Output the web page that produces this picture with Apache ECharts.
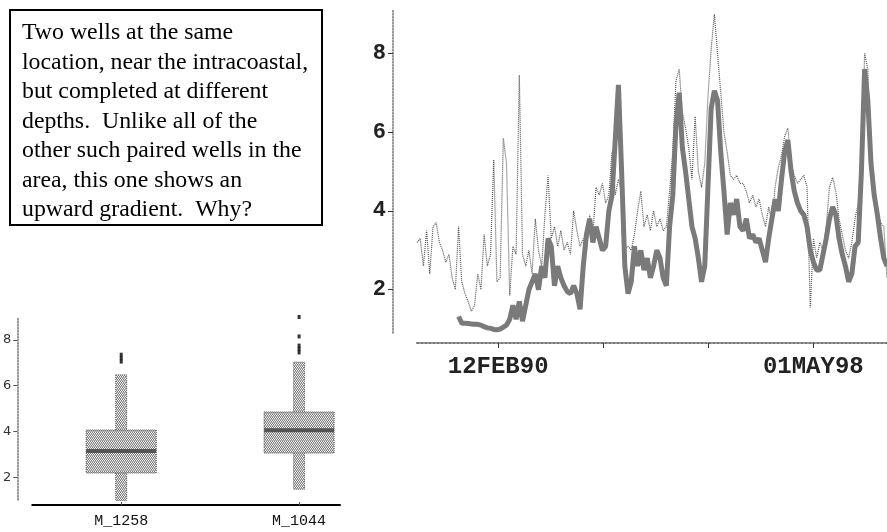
<!DOCTYPE html>
<html>
<head>
<meta charset="utf-8">
<script src="https://cdn.jsdelivr.net/npm/echarts@6/dist/echarts.min.js"></script>
<style>
html,body{margin:0;padding:0;background:#fff;}
#chart{width:887px;height:532px;}
</style>
</head>
<body>
<div id="chart"></div>
<script>
// ---------- DATA ----------
// Monthly water levels, first value = January 1988 (shallow / light series, M_1044)
const lightStartYear = 1988, lightStartMonth = 1;
const lightLevels = [
 3.2,3.3,2.6,3.5,2.4,3.6,3.7,3.2,3.0,2.7,2.9,2.3,
 2.0,3.6,2.2,1.9,1.7,1.45,1.6,2.4,2.0,3.4,2.6,2.9,
 5.3,2.2,2.3,5.85,5.2,1.85,3.1,2.9,7.45,2.9,2.6,3.0,
 2.4,3.8,3.0,2.6,3.9,4.9,3.3,3.6,3.1,3.5,3.0,3.2,
 2.9,4.0,3.5,3.1,3.3,3.0,3.9,3.4,4.6,4.4,4.7,4.2,
 4.4,5.5,4.4,4.8,4.5,3.0,3.1,3.0,3.4,4.0,4.5,3.6,
 3.9,3.5,4.0,3.6,3.8,3.5,3.6,4.5,5.5,7.3,7.6,6.5,
 6.1,5.6,4.8,6.4,5.0,4.6,5.2,6.9,8.1,9.0,8.0,7.0,
 6.0,5.5,4.9,4.8,4.9,4.7,4.7,4.5,4.2,4.4,4.1,4.3,
 3.9,3.6,4.1,3.7,4.6,5.1,5.4,5.9,6.1,5.2,4.9,4.7,
 4.8,4.9,4.6,1.55,3.3,2.8,3.2,3.0,3.6,4.6,4.85,4.5,
 3.8,3.4,3.0,2.8,3.2,3.8,4.2,5.0,8.0,7.6,5.2,4.3,
 4.0,3.7,3.6,2.3
];
// Monthly water levels, first value = February 1989 (deep / dark series, M_1258)
const darkStartYear = 1989, darkStartMonth = 2;
const darkLevels = [
 1.32,1.15,1.15,1.14,1.13,1.12,1.12,1.10,1.06,1.03,1.02,
 0.99,0.98,1.0,1.05,1.1,1.25,1.6,1.25,1.7,1.2,1.6,2.0,
 2.2,2.4,2.0,2.6,2.3,3.3,3.1,2.1,2.6,2.3,2.1,1.95,
 1.9,2.1,1.9,1.5,2.6,3.4,3.8,3.2,3.6,3.3,3.0,3.1,
 4.0,4.4,5.8,7.2,5.0,2.6,1.9,2.2,3.1,2.6,3.0,2.5,
 2.8,2.3,2.6,3.0,2.8,2.3,2.1,3.6,4.4,6.2,7.0,5.6,
 5.0,4.3,3.6,3.3,2.8,2.2,2.6,4.6,6.6,7.05,6.8,5.5,
 4.5,3.4,4.2,3.9,4.3,3.6,3.5,3.8,3.3,3.4,3.2,3.3,
 3.0,2.7,3.3,3.8,4.3,4.0,4.8,5.5,5.8,5.0,4.5,4.2,
 4.0,3.9,3.6,3.0,2.7,2.5,2.5,2.9,3.3,3.8,4.1,3.9,
 3.3,2.9,2.6,2.2,2.4,3.1,3.2,5.0,7.6,6.8,5.2,4.4,
 3.9,3.3,2.8,2.6
];
// Time-axis ticks (decimal years) and their labels
const timeTicks = [1990.115, 1992.853, 1995.591, 1998.329];
const timeTickLabels = ['12FEB90', '', '', '01MAY98'];
const levelTicks = [2, 4, 6, 8];

// Box plot statistics
const boxCategories = ['M_1258', 'M_1044'];
const boxLow    = [0.98, 1.47];
const boxQ1     = [2.18, 3.05];
const boxMedian = [3.14, 4.05];
const boxQ3     = [4.06, 4.85];
const boxHigh   = [6.47, 7.03];
const outliers1258 = [7.05, 7.2, 7.35];
const outliers1044 = [7.45, 7.6, 7.75, 8.15, 9.0];

const noteText = 'Two wells at the same\nlocation, near the intracoastal,\nbut completed at different\ndepths.  Unlike all of the\nother such paired wells in the\narea, this one shows an\nupward gradient.  Why?';

// ---------- BUILD ----------
function toSeries(startYear, startMonth, levels) {
  const out = [];
  for (let i = 0; i < levels.length; i++) {
    const mIdx = (startMonth - 1) + i;
    out.push([startYear + mIdx / 12, levels[i]]);
  }
  return out;
}
const lightData = toSeries(lightStartYear, lightStartMonth, lightLevels);
const darkData = toSeries(darkStartYear, darkStartMonth, darkLevels);

const boxData = boxCategories.map((c, i) => [i + 1, boxLow[i], boxQ1[i], boxMedian[i], boxQ3[i], boxHigh[i]]);
const outlierData = outliers1258.map(v => [1, v]).concat(outliers1044.map(v => [2, v]));

// stipple pattern
const pc = document.createElement('canvas');
pc.width = 4; pc.height = 3;
const pctx = pc.getContext('2d');
pctx.fillStyle = '#f2f2f2'; pctx.fillRect(0, 0, 4, 3);
pctx.fillStyle = '#7a7a7a';
pctx.fillRect(0, 0, 1, 1); pctx.fillRect(2, 0, 1, 1);
pctx.fillRect(1, 1, 1, 1); pctx.fillRect(3, 1, 1, 1);
pctx.fillStyle = '#b0b0b0';
pctx.fillRect(0, 2, 4, 1);
const stipple = { image: pc, repeat: 'repeat' };

const monoBold = { fontFamily: 'Liberation Mono', fontWeight: 'bold', color: '#222' };

const chart = echarts.init(document.getElementById('chart'), null, { renderer: 'canvas' });
chart.setOption({
  animation: false,
  backgroundColor: '#fff',
  grid: [
    { left: 417, right: 0, top: 10, bottom: 199 },
    { left: 32, right: 547, top: 317, bottom: 32 }
  ],
  xAxis: [
    {
      type: 'value', gridIndex: 0, min: 1988.0, max: 2000.25, offset: 10,
      axisLine: { lineStyle: { color: '#777', width: 2, type: 'dotted' } },
      axisTick: { customValues: timeTicks, length: 5, lineStyle: { color: '#333', width: 1 } },
      axisLabel: {
        customValues: timeTicks.filter((t, i) => timeTickLabels[i] !== ''),
        formatter: v => { let best = 0; timeTicks.forEach((t, i) => { if (Math.abs(t - v) < Math.abs(timeTicks[best] - v)) best = i; }); return timeTickLabels[best]; },
        margin: 12, fontSize: 24, ...monoBold
      },
      splitLine: { show: false }
    },
    {
      type: 'value', gridIndex: 1, min: 0.5, max: 2.23, offset: 5,
      axisLine: { lineStyle: { color: '#000', width: 2 } },
      axisTick: { customValues: [1, 2], inside: true, length: 3, lineStyle: { color: '#555' } },
      axisLabel: {
        customValues: [1, 2],
        formatter: v => boxCategories[Math.round(v) - 1],
        margin: 9, fontSize: 15, fontFamily: 'Liberation Mono', color: '#111'
      },
      splitLine: { show: false }
    }
  ],
  yAxis: [
    {
      type: 'value', gridIndex: 0, min: 0.9, max: 9.1, offset: 24,
      axisLine: { show: true, lineStyle: { color: '#777', width: 1.5, type: 'dotted' } },
      axisTick: { show: true, customValues: levelTicks, length: 5, lineStyle: { color: '#333' } },
      axisLabel: { customValues: levelTicks, margin: 7, fontSize: 22, ...monoBold },
      splitLine: { show: false }
    },
    {
      type: 'value', gridIndex: 1, min: 1, max: 9, offset: 15,
      axisLine: { show: true, lineStyle: { color: '#777', width: 1.5, type: 'dotted' } },
      axisTick: { show: true, customValues: levelTicks, length: 4, lineStyle: { color: '#555' } },
      axisLabel: { customValues: levelTicks, margin: 6, fontSize: 13, fontFamily: 'DejaVu Sans', color: '#333' },
      splitLine: { show: false }
    }
  ],
  series: [
    {
      type: 'line', xAxisIndex: 0, yAxisIndex: 0, data: lightData, showSymbol: false,
      lineStyle: { color: '#555', width: 1.2, type: [1, 1] }, z: 2
    },
    {
      type: 'line', xAxisIndex: 0, yAxisIndex: 0, data: darkData, showSymbol: false,
      lineStyle: { color: '#7a7a7a', width: 5 }, z: 3
    },
    {
      type: 'custom', xAxisIndex: 1, yAxisIndex: 1, data: boxData,
      renderItem: (params, api) => {
        const x = api.value(0);
        const pLow = api.coord([x, api.value(1)]);
        const pQ1 = api.coord([x, api.value(2)]);
        const pMed = api.coord([x, api.value(3)]);
        const pQ3 = api.coord([x, api.value(4)]);
        const pHigh = api.coord([x, api.value(5)]);
        const bw = 35, ww = 5.5;
        return {
          type: 'group',
          children: [
            { type: 'rect', shape: { x: pLow[0] - ww, y: pHigh[1], width: ww * 2, height: pLow[1] - pHigh[1] },
              style: { fill: stipple, stroke: '#666', lineWidth: 1, lineDash: [1, 1] } },
            { type: 'rect', shape: { x: pQ3[0] - bw, y: pQ3[1], width: bw * 2, height: pQ1[1] - pQ3[1] },
              style: { fill: stipple, stroke: '#555', lineWidth: 1, lineDash: [1, 1] } },
            { type: 'rect', shape: { x: pMed[0] - bw, y: pMed[1] - 2, width: bw * 2, height: 4 },
              style: { fill: '#555' } }
          ]
        };
      }
    },
    {
      type: 'scatter', xAxisIndex: 1, yAxisIndex: 1, data: outlierData,
      symbol: 'rect', symbolSize: [3, 4], itemStyle: { color: '#000' }
    }
  ],
  graphic: [
    { type: 'rect', shape: { x: 10, y: 10, width: 312, height: 215 }, style: { fill: '#fff', stroke: '#000', lineWidth: 2 } },
    { type: 'text', x: 22, y: 18, style: { text: noteText, font: '23.8px "Liberation Serif"', lineHeight: 29.5, fill: '#000' } }
  ]
});
</script>
</body>
</html>
